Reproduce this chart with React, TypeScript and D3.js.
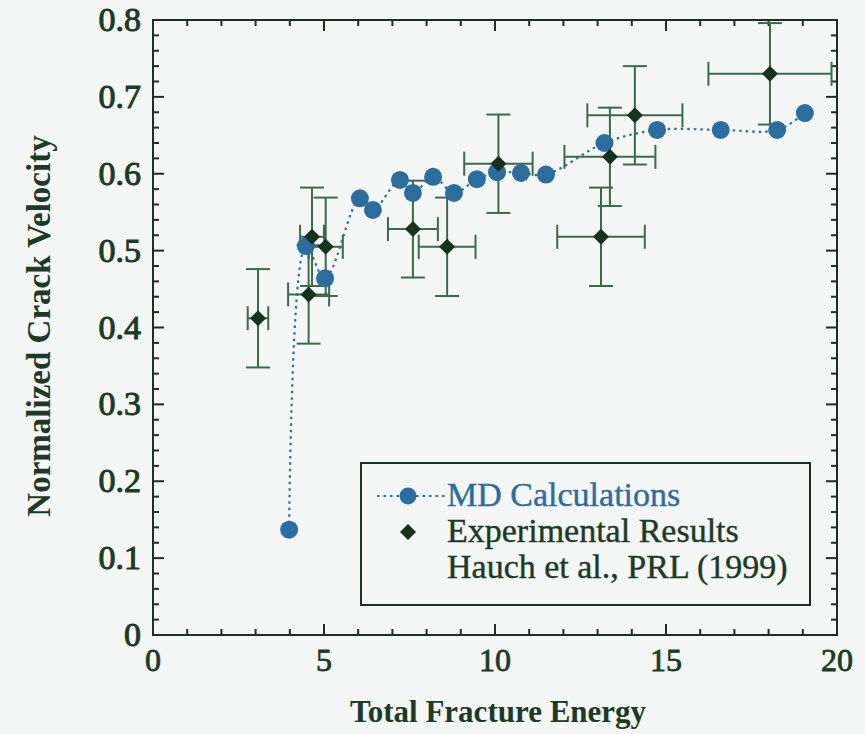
import React from 'react';
import * as d3 from 'd3';

// MD simulation results (blue circles, dotted curve)
const mdEnergy = [3.98, 4.47, 5.03, 6.05, 6.43, 7.22, 7.6, 8.19, 8.8, 9.47, 10.06, 10.76, 11.49, 13.2, 14.74, 16.6, 18.25, 19.06];
const mdVelocity = [0.137, 0.506, 0.464, 0.568, 0.553, 0.592, 0.575, 0.596, 0.575, 0.593, 0.602, 0.601, 0.599, 0.64, 0.657, 0.657, 0.657, 0.679];

// Experimental results (Hauch et al.) with error bars
const expEnergy = [3.07, 4.65, 5.05, 4.55, 7.6, 8.6, 10.1, 13.1, 13.36, 14.09, 18.04];
const expVelocity = [0.412, 0.518, 0.505, 0.443, 0.528, 0.505, 0.613, 0.518, 0.622, 0.676, 0.73];
const expEnergyErr = [0.3, 0.35, 0.5, 0.6, 0.73, 0.83, 1.0, 1.28, 1.33, 1.39, 1.8];
const expVelocityErr = [0.064, 0.064, 0.064, 0.064, 0.063, 0.064, 0.064, 0.064, 0.064, 0.064, 0.066];

const xTicks = [0, 5, 10, 15, 20];
const yTicks = [0, 0.1, 0.2, 0.3, 0.4, 0.5, 0.6, 0.7, 0.8];

const W = 865;
const H = 734;
const frame = { left: 153, right: 837, top: 20, bottom: 635 };

const FONT = '"Liberation Serif", "Times New Roman", serif';
const TEXT = '#1d3a27';
const AXIS = '#1b2f22';
const BLUE = '#2c6d9d';
const DIAMOND = '#15331f';
const ERR = '#3b6a4b';

const App = () => {
  const x = d3.scaleLinear().domain([0, 20]).range([frame.left, frame.right]);
  const y = d3.scaleLinear().domain([0, 0.8]).range([frame.bottom, frame.top]);

  const md = mdEnergy.map((e, i) => ({ e, v: mdVelocity[i] }));
  const exp = expEnergy.map((e, i) => ({
    e,
    v: expVelocity[i],
    de: expEnergyErr[i],
    dv: expVelocityErr[i],
  }));

  const line = d3
    .line<{ e: number; v: number }>()
    .x(d => x(d.e))
    .y(d => y(d.v))
    .curve(d3.curveCatmullRom.alpha(0.5));

  const diamond = (cx: number, cy: number, r: number) =>
    `M${cx},${cy - r}L${cx + r},${cy}L${cx},${cy + r}L${cx - r},${cy}Z`;

  const xMinor = d3.range(0, 21, 1);
  const yMinor = d3.range(0, 41).map(i => i * 0.02);
  const cap = 12;

  const txt = { fontFamily: FONT, fill: TEXT };

  return (
    <svg
      width={W}
      height={H}
      style={{ position: 'absolute', left: 0, top: 0, background: '#f4f5f5' }}
    >
      {/* ticks, inward on all four sides */}
      <g stroke={AXIS} strokeWidth={2}>
        {xMinor.map(t => {
          const len = t % 5 === 0 ? 11 : 6;
          return (
            <g key={'xt' + t}>
              <line x1={x(t)} x2={x(t)} y1={frame.bottom} y2={frame.bottom - len} />
              <line x1={x(t)} x2={x(t)} y1={frame.top} y2={frame.top + len} />
            </g>
          );
        })}
        {yMinor.map((t, i) => {
          const len = i % 5 === 0 ? 11 : 6;
          return (
            <g key={'yt' + i}>
              <line x1={frame.left} x2={frame.left + len} y1={y(t)} y2={y(t)} />
              <line x1={frame.right} x2={frame.right - len} y1={y(t)} y2={y(t)} />
            </g>
          );
        })}
        <rect
          x={frame.left}
          y={frame.top}
          width={frame.right - frame.left}
          height={frame.bottom - frame.top}
          fill="none"
        />
      </g>

      {/* tick labels */}
      {xTicks.map(t => (
        <text key={'xl' + t} x={x(t)} y={671} textAnchor="middle" fontSize={32} {...txt} stroke={TEXT} strokeWidth={0.8}>
          {t}
        </text>
      ))}
      {yTicks.map(t => (
        <text key={'yl' + t} x={141} y={y(t) + 11} textAnchor="end" fontSize={34} {...txt} stroke={TEXT} strokeWidth={1}>
          {t === 0 ? '0' : t.toFixed(1)}
        </text>
      ))}

      {/* axis titles */}
      <text x={498} y={722} textAnchor="middle" fontSize={31} fontWeight="bold" {...txt}>
        Total Fracture Energy
      </text>
      <text
        transform={`translate(50,326) rotate(-90)`}
        textAnchor="middle"
        fontSize={33}
        fontWeight="bold"
        {...txt}
      >
        Normalized Crack Velocity
      </text>

      {/* MD dotted curve */}
      <path d={line(md) || ''} fill="none" stroke={BLUE} strokeWidth={2.2} strokeDasharray="2.5,4" />

      {/* experimental error bars */}
      <g stroke={ERR} strokeWidth={2} fill="none">
        {exp.map((d, i) => (
          <g key={'eb' + i}>
            <line x1={x(d.e)} x2={x(d.e)} y1={y(d.v - d.dv)} y2={y(d.v + d.dv)} />
            <line x1={x(d.e) - cap} x2={x(d.e) + cap} y1={y(d.v - d.dv)} y2={y(d.v - d.dv)} />
            <line x1={x(d.e) - cap} x2={x(d.e) + cap} y1={y(d.v + d.dv)} y2={y(d.v + d.dv)} />
            <line x1={x(d.e - d.de)} x2={x(d.e + d.de)} y1={y(d.v)} y2={y(d.v)} />
            <line x1={x(d.e - d.de)} x2={x(d.e - d.de)} y1={y(d.v) - cap} y2={y(d.v) + cap} />
            <line x1={x(d.e + d.de)} x2={x(d.e + d.de)} y1={y(d.v) - cap} y2={y(d.v) + cap} />
          </g>
        ))}
      </g>

      {/* MD circles */}
      {md.map((d, i) => (
        <circle key={'md' + i} cx={x(d.e)} cy={y(d.v)} r={9} fill={BLUE} />
      ))}

      {/* experimental diamonds */}
      {exp.map((d, i) => (
        <path key={'ex' + i} d={diamond(x(d.e), y(d.v), 8)} fill={DIAMOND} />
      ))}

      {/* legend */}
      <rect x={361} y={463} width={449} height={142} fill="#f4f5f5" stroke={AXIS} strokeWidth={2} />
      <line x1={377} x2={445} y1={496} y2={496} stroke={BLUE} strokeWidth={2} strokeDasharray="2.5,4" />
      <circle cx={408} cy={496} r={8.5} fill={BLUE} />
      <path d={diamond(408, 532, 8)} fill={DIAMOND} />
      <text x={447} y={506} fontSize={34} {...txt} fill={BLUE} stroke={BLUE} strokeWidth={0.4}>
        MD Calculations
      </text>
      <text x={447} y={542} fontSize={34} {...txt} stroke={TEXT} strokeWidth={0.4}>
        Experimental Results
      </text>
      <text x={447} y={578} fontSize={34} {...txt} stroke={TEXT} strokeWidth={0.4}>
        Hauch et al., PRL (1999)
      </text>
    </svg>
  );
};

export default App;
